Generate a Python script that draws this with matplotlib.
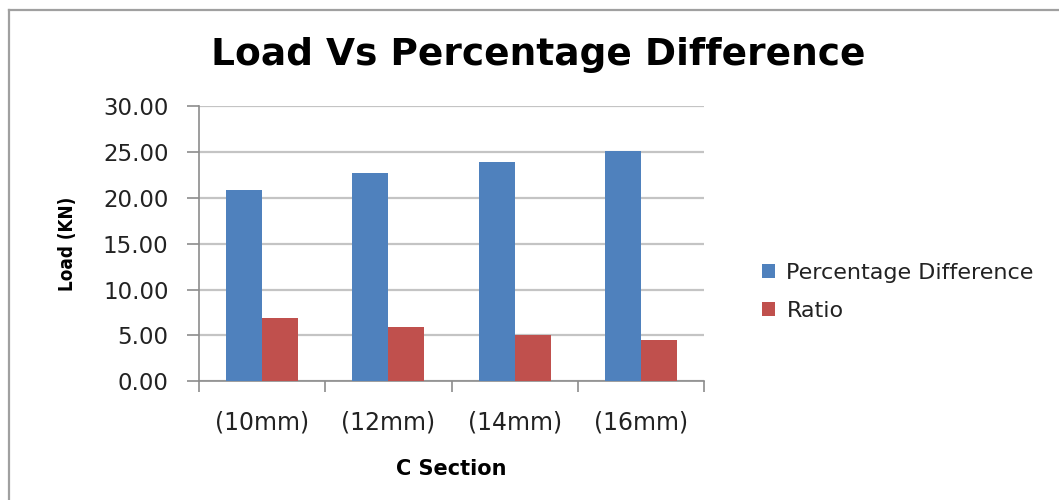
import numpy as np
import matplotlib
matplotlib.use('Agg')
import matplotlib.pyplot as plt
from matplotlib.lines import Line2D

# C section sizes and the two measured series
sections = ['(10mm)', '(12mm)', '(14mm)', '(16mm)']
pct_difference = [20.80, 22.65, 23.95, 25.10]
ratio = [6.90, 5.95, 5.05, 4.50]

blue = '#4F81BD'
red = '#C0504D'
grid_col = '#C4C4C4'
axis_col = '#8C8C8C'

fig = plt.figure(figsize=(10.59, 5.0), dpi=100)
ax = fig.add_axes([199 / 1059, 1 - 381.3 / 500, (704 - 199) / 1059, (381.3 - 106) / 500])

x = np.arange(len(sections))
w = 1 / 3.5
ax.bar(x - w / 2, pct_difference, w, color=blue, label='Percentage Difference', zorder=3)
ax.bar(x + w / 2, ratio, w, color=red, label='Ratio', zorder=3)

ax.set_xlim(-0.5, len(sections) - 0.5)
ax.set_ylim(0, 30)
ax.set_yticks(np.arange(0, 31, 5))
ax.set_yticklabels([f'{v:.2f}' for v in np.arange(0, 31, 5)])
ax.yaxis.grid(True, color=grid_col, linewidth=1.6, zorder=0)
ax.set_axisbelow(True)

# category labels sit between the tick marks at the boundaries
ax.set_xticks(np.arange(-0.5, len(sections), 1.0))
ax.set_xticklabels([])
ax.set_xticks(x, minor=True)
ax.set_xticklabels(sections, minor=True)
ax.tick_params(axis='x', which='minor', length=0, pad=21, labelsize=17, labelcolor='#222222')
ax.tick_params(axis='x', which='major', length=8, color=axis_col, width=1.2)
ax.tick_params(axis='y', length=9, color=axis_col, width=1.2, pad=13, labelsize=16.5, labelcolor='#222222')

for side in ['top', 'right']:
    ax.spines[side].set_visible(False)
for side in ['left', 'bottom']:
    ax.spines[side].set_color(axis_col)
    ax.spines[side].set_linewidth(1.2)

ax.set_xlabel('C Section', fontsize=15, fontweight='bold', labelpad=18)
fig.text(67 / 1059, 1 - 244 / 500, 'Load (KN)', rotation=90, ha='center', va='center',
         fontsize=13.5, fontweight='bold', fontstretch='condensed')

fig.text(538 / 1059, 1 - 55 / 500, 'Load Vs Percentage Difference', ha='center', va='center',
         fontsize=27, fontweight='bold')

leg = fig.legend(loc='center left', bbox_to_anchor=(742 / 1059, 1 - 292 / 500), frameon=False,
                 fontsize=16, handlelength=0.6, handleheight=0.6, handletextpad=0.5,
                 labelspacing=0.8)
for t in leg.get_texts():
    t.set_color('#222222')

# outer chart frame
fig.add_artist(Line2D([9 / 1059, 9 / 1059], [0, 1 - 10 / 500], color='#A0A0A0', linewidth=1.6,
                      transform=fig.transFigure))
fig.add_artist(Line2D([9 / 1059, 1], [1 - 10 / 500, 1 - 10 / 500], color='#A0A0A0', linewidth=1.6,
                      transform=fig.transFigure))

fig.savefig('out.png', dpi=100)
